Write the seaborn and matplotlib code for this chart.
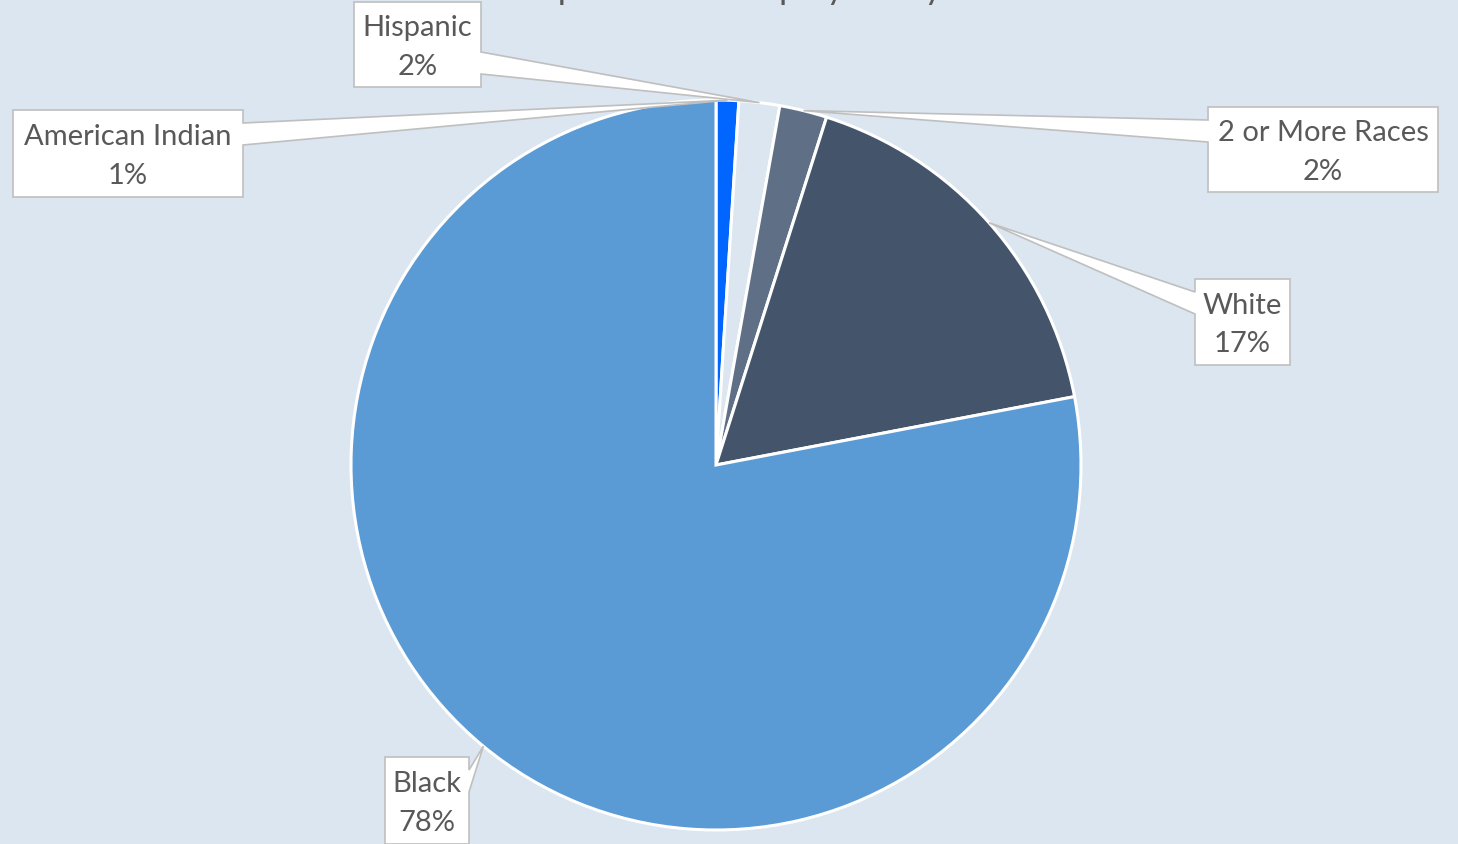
import numpy as np
import matplotlib
matplotlib.use("Agg")
import matplotlib.pyplot as plt
from matplotlib.patches import Polygon
import seaborn as sns

# Chart data
groups = ["American Indian", "Hispanic", "2 or More Races", "White", "Black"]
shares = [1.0, 1.8, 2.1, 17.1, 78.0]
pct_labels = ["1%", "2%", "2%", "17%", "78%"]
slice_colors = ["#0066FF", "#DCE6F0", "#5F6F85", "#44546A", "#5B9BD5"]
title = "Composition of Employees by Race"

# Label boxes (left, top, width, height) in image pixels, top-left origin
label_boxes = [
    (13, 110, 230, 87),
    (354, 2, 127, 85),
    (1208, 107, 230, 85),
    (1195, 279, 95, 86),
    (385, 757, 84, 87),
]

W, H = 1458, 844
bg = "#DCE6F0"
text_color = "#595959"
cx, cy, r = 716, H - 465, 365

sns.set_theme(style="white")
plt.rcParams['font.family'] = ['Lato', 'DejaVu Sans']

fig = plt.figure(figsize=(W / 100, H / 100), dpi=100, facecolor=bg)
ax = fig.add_axes([0, 0, 1, 1])
ax.set_facecolor(bg)

ax.pie(shares, colors=slice_colors, startangle=90, counterclock=False,
       center=(cx, cy), radius=r,
       wedgeprops=dict(edgecolor="white", linewidth=2.2))
ax.set_xlim(0, W)
ax.set_ylim(0, H)
ax.axis("off")

# callout labels pointing at the middle of each slice's arc
total = sum(shares)
cum = 0.0
for name, val, pct, box in zip(groups, shares, pct_labels, label_boxes):
    theta = np.deg2rad(360 * (cum + val / 2) / total)
    cum += val
    tx, ty = cx + r * np.sin(theta), cy + r * np.cos(theta)
    left, top, bw, bh = box
    L, R = left, left + bw
    T, B = H - top, H - top - bh
    inset, base = 13, 22
    # base of the pointer sits near the corner closest to the tip
    if ty > (T + B) / 2:
        y1, y2 = T - inset, T - inset - base
    else:
        y1, y2 = B + inset + base, B + inset
    if tx > R:
        pts = [(L, T), (R, T), (R, y1), (tx, ty), (R, y2), (R, B), (L, B)]
    else:
        pts = [(L, T), (R, T), (R, B), (L, B), (L, y2), (tx, ty), (L, y1)]
    ax.add_patch(Polygon(pts, closed=True, facecolor="white",
                         edgecolor="#BFBFBF", linewidth=1.2, zorder=5))
    ax.text((L + R) / 2, (T + B) / 2 - 3, f"{name}\n{pct}", ha="center", va="center",
            fontsize=21, color=text_color, linespacing=1.6, zorder=6)

# title sits mostly above the visible area, as in the source
fig.text(756 / W, 1 + 1 / H, title, ha="center", va="baseline",
         fontsize=25, color=text_color)

fig.savefig("out.png", dpi=100, facecolor=bg)
